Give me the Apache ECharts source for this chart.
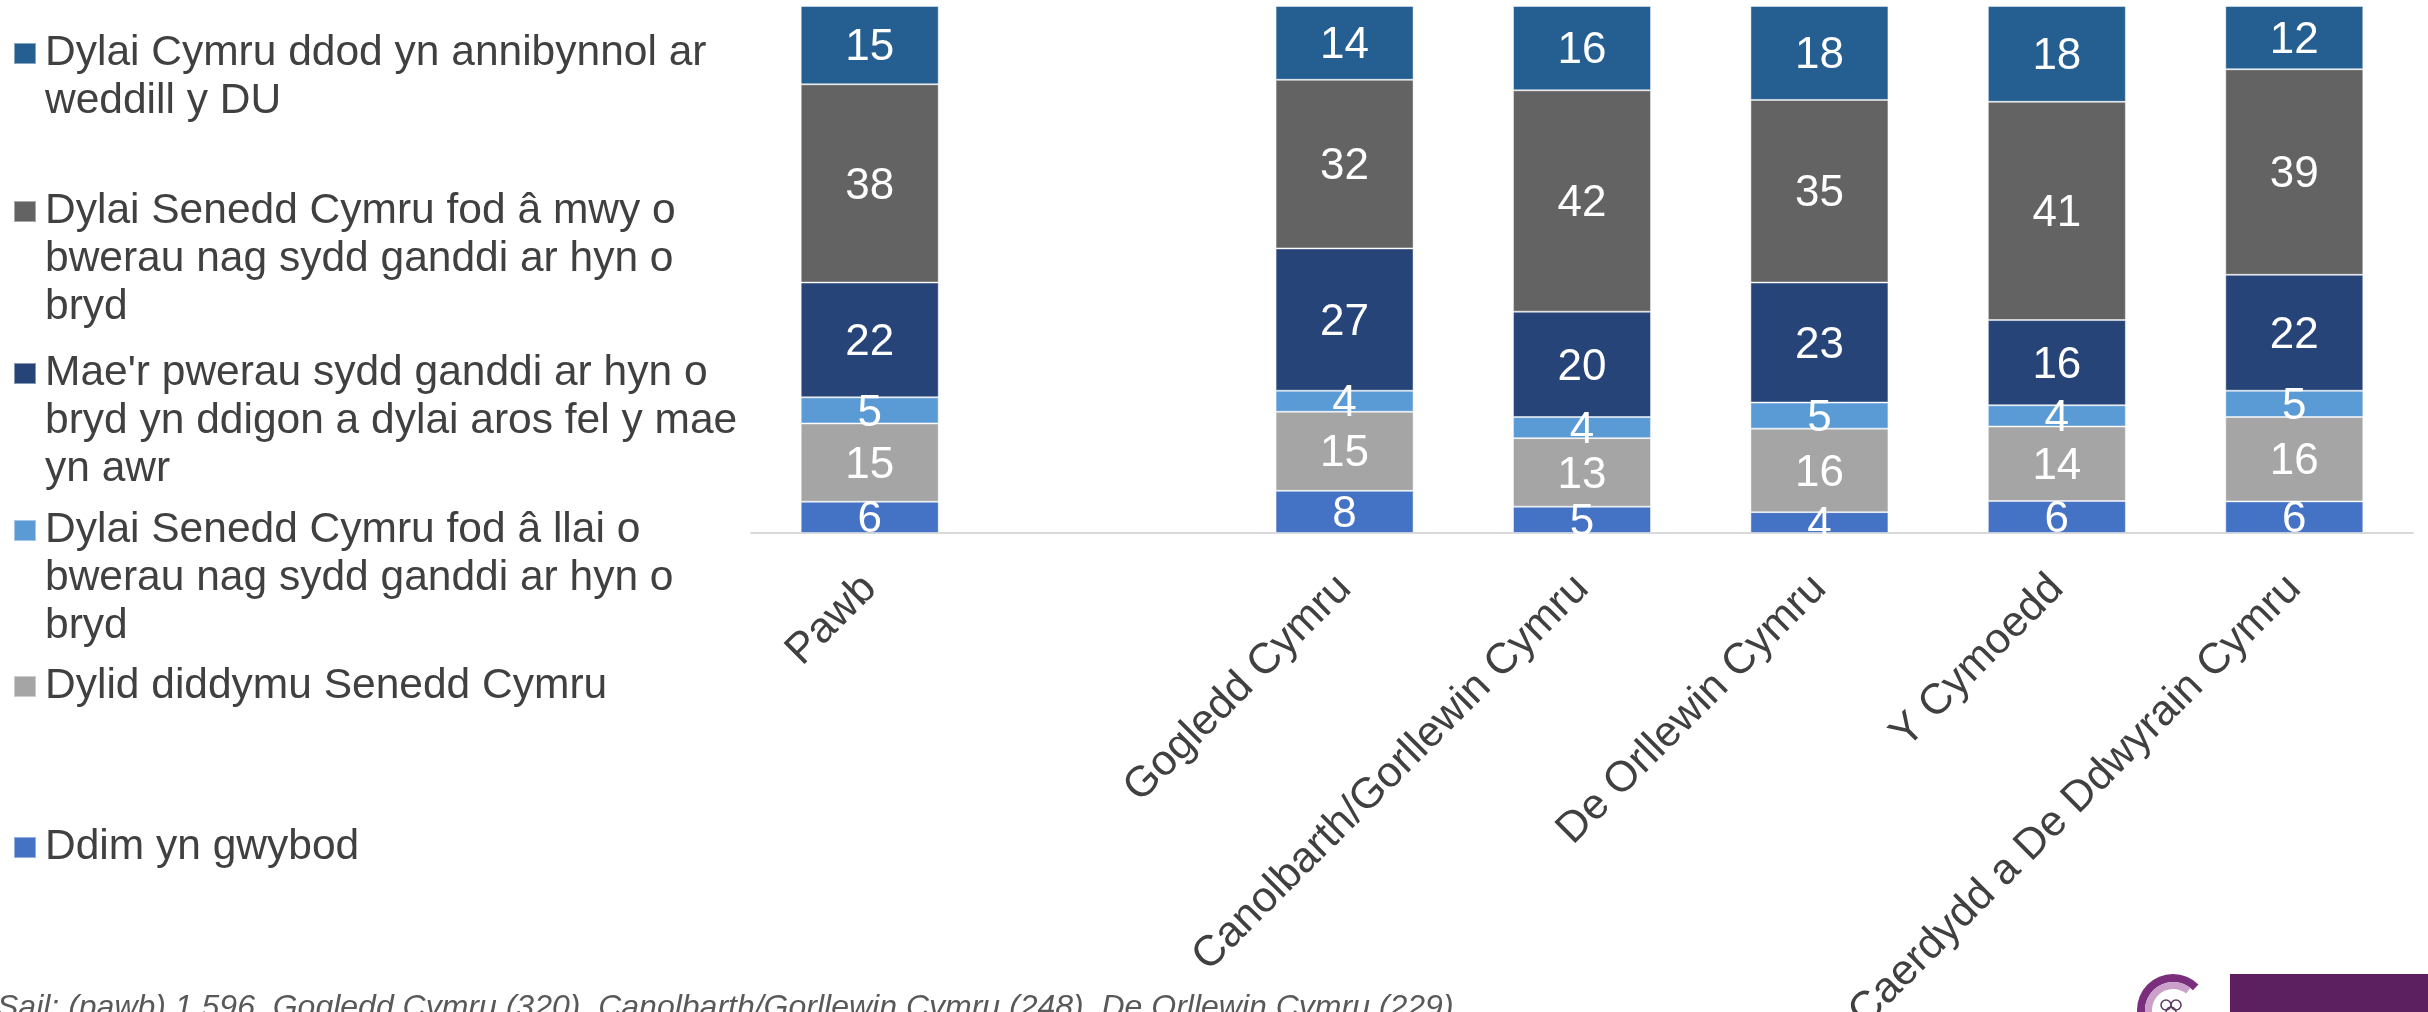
<!DOCTYPE html>
<html>
<head>
<meta charset="utf-8">
<script src="https://cdn.jsdelivr.net/npm/echarts@6/dist/echarts.min.js"></script>
<style>
    html, body { margin: 0; padding: 0; background: #fff; }
    #chart { width: 2428px; height: 1012px; }
</style>
</head>
<body>
<div id="chart"></div>
<script>
// categories (empty slot between Pawb and the regions, as in the original)
const categories = ['Pawb', '', 'Gogledd Cymru', 'Canolbarth/Gorllewin Cymru', 'De Orllewin Cymru', 'Y Cymoedd', 'Caerdydd a De Ddwyrain Cymru'];

// series values, bottom of the stack first
const ddimValues = [6, null, 8, 5, 4, 6, 6];
const diddymuValues = [15, null, 15, 13, 16, 14, 16];
const llaiValues = [5, null, 4, 4, 5, 4, 5];
const arosValues = [22, null, 27, 20, 23, 16, 22];
const mwyValues = [38, null, 32, 42, 35, 41, 39];
const annibynnolValues = [15, null, 14, 16, 18, 18, 12];

const seriesNames = [
    'Ddim yn gwybod',
    'Dylid diddymu Senedd Cymru',
    'Dylai Senedd Cymru fod â llai o\nbwerau nag sydd ganddi ar hyn o\nbryd',
    "Mae'r pwerau sydd ganddi ar hyn o\nbryd yn ddigon a dylai aros fel y mae\nyn awr",
    'Dylai Senedd Cymru fod â mwy o\nbwerau nag sydd ganddi ar hyn o\nbryd',
    'Dylai Cymru ddod yn annibynnol ar\nweddill y DU'
];
const seriesValues = [ddimValues, diddymuValues, llaiValues, arosValues, mwyValues, annibynnolValues];
const colors = ['#4472c4', '#a5a5a5', '#5b9bd5', '#264478', '#636363', '#255e91'];

const footnote = 'Sail: (pawb) 1,596, Gogledd Cymru (320), Canolbarth/Gorllewin Cymru (248), De Orllewin Cymru (229)';

const FONT = '"Liberation Sans", Arial, sans-serif';
const LH = 48;

// 100% stacked: each column is scaled to its own total
const totals = categories.map((c, i) => seriesValues.reduce((s, arr) => s + (arr[i] || 0), 0));

// legend slots, top to bottom (first-line centre in px)
const legendOrder = [5, 4, 3, 2, 1, 0];
const legendCentres = [53, 211, 373, 530, 686, 847];

// one legend per item so the marker sits on the first text line
const legends = legendOrder.map((si, k) => {
    const lines = seriesNames[si].split('\n').length;
    return {
        data: [seriesNames[si]],
        orient: 'vertical',
        left: 13,
        top: legendCentres[k] - (2 * lines - 1) * LH / 2 + 0.5,
        padding: 0,
        itemWidth: 22,
        itemHeight: 21,
        icon: 'rect',
        selectedMode: false,
        formatter: name => '\n'.repeat(lines - 1) + name,
        textStyle: {
            fontFamily: FONT,
            fontSize: 42.5,
            lineHeight: LH,
            color: '#404040',
            padding: [0, 0, 0, 4]
        }
    };
});

const series = seriesNames.map((name, si) => ({
    name: name,
    type: 'bar',
    stack: 'total',
    barWidth: 138,
    itemStyle: { color: colors[si], borderColor: 'rgba(255,255,255,0.45)', borderWidth: 1 },
    label: {
        show: true,
        position: 'inside',
        offset: [0, 3],
        color: '#fff',
        fontFamily: FONT,
        fontSize: 44,
        formatter: p => p.data.raw
    },
    data: seriesValues[si].map((v, i) => v == null ? null : { value: v / totals[i] * 100, raw: v })
}));

const chart = echarts.init(document.getElementById('chart'));
chart.setOption({
    animation: false,
    backgroundColor: '#fff',
    legend: legends,
    grid: { left: 751, right: 15, top: 6, bottom: 479, outerBoundsMode: 'none' },
    xAxis: {
        type: 'category',
        data: categories,
        axisLine: { lineStyle: { color: '#d9d9d9', width: 2 } },
        axisTick: { show: false },
        axisLabel: {
            interval: 0,
            rotate: 45,
            margin: 49,
            fontFamily: FONT,
            fontSize: 43,
            color: '#404040'
        }
    },
    yAxis: { type: 'value', min: 0, max: 100, show: false },
    series: series,
    graphic: [
        {
            type: 'text',
            left: -3,
            top: 992,
            style: {
                text: footnote,
                font: 'italic 32px ' + FONT,
                fill: '#595959'
            }
        },
        {
            type: 'rect',
            shape: { x: 2230, y: 974, width: 198, height: 40 },
            style: { fill: '#5c1f5f' }
        },
        {
            type: 'sector',
            shape: { cx: 2173, cy: 1010, r: 36, r0: 28, startAngle: -Math.PI / 4, endAngle: Math.PI / 2, clockwise: false },
            style: { fill: '#7a2f7d' }
        },
        {
            type: 'sector',
            shape: { cx: 2173, cy: 1010, r: 28, r0: 21, startAngle: -Math.PI / 3.5, endAngle: Math.PI / 2, clockwise: false },
            style: { fill: '#caa0cb' }
        },
        { type: 'circle', shape: { cx: 2166, cy: 1005, r: 5 }, style: { fill: 'none', stroke: '#5a3a5c', lineWidth: 1.5 } },
        { type: 'circle', shape: { cx: 2176, cy: 1005, r: 5 }, style: { fill: 'none', stroke: '#5a3a5c', lineWidth: 1.5 } },
        { type: 'circle', shape: { cx: 2171, cy: 1012, r: 5 }, style: { fill: 'none', stroke: '#5a3a5c', lineWidth: 1.5 } }
    ]
});
</script>
</body>
</html>
